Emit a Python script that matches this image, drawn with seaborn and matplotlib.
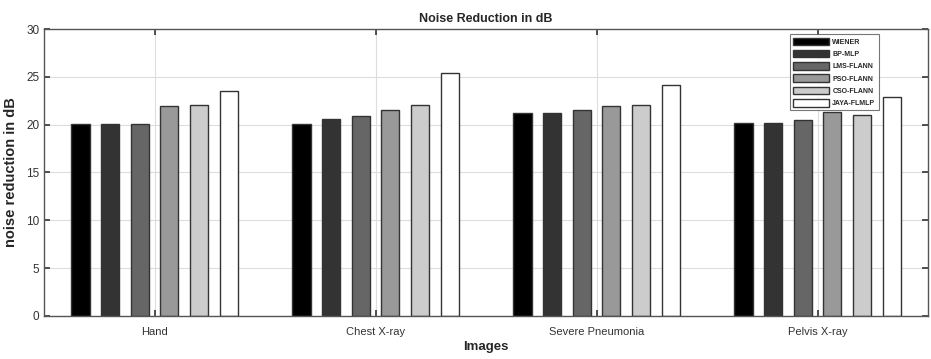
import pandas as pd
import numpy as np
import matplotlib
matplotlib.use("Agg")
import matplotlib.pyplot as plt
import seaborn as sns

# data
images = ["Hand", "Chest X-ray", "Severe Pneumonia", "Pelvis X-ray"]
methods = ["WIENER", "BP-MLP", "LMS-FLANN", "PSO-FLANN", "CSO-FLANN", "JAYA-FLMLP"]
wiener = [20.05, 20.1, 21.2, 20.2]
bp_mlp = [20.1, 20.6, 21.2, 20.2]
lms_flann = [20.1, 20.9, 21.5, 20.5]
pso_flann = [21.9, 21.5, 21.9, 21.35]
cso_flann = [22.1, 22.1, 22.1, 21.0]
jaya_flmlp = [23.5, 25.4, 24.15, 22.9]
colors = ["#000000", "#333333", "#666666", "#999999", "#cccccc", "#ffffff"]

# long form table for seaborn
rows = []
for m, vals in zip(methods, [wiener, bp_mlp, lms_flann, pso_flann, cso_flann, jaya_flmlp]):
    for img, v in zip(images, vals):
        rows.append({"Images": img, "Method": m, "value": v})
df = pd.DataFrame(rows)

sns.set_style("white")
plt.rcParams['font.family'] = ['Liberation Sans', 'DejaVu Sans']

fig = plt.figure(figsize=(9.31, 3.59), dpi=100)
ax = fig.add_axes([0.0473, 0.1198, 0.9495, 0.7994])

sns.barplot(data=df, x="Images", y="value", hue="Method", order=images,
            hue_order=methods, palette=colors, width=0.804, gap=0.39,
            edgecolor="#333333", linewidth=1.0, saturation=1, ax=ax)

ax.set_xlim(-0.5, 3.5)
ax.set_ylim(0, 30)
ax.set_yticks(np.arange(0, 31, 5))
ax.grid(True, color="#dddddd", linewidth=0.8)
ax.set_axisbelow(True)

for s in ax.spines.values():
    s.set_color("#555555")
    s.set_linewidth(1.0)
    s.set_visible(True)

ax.tick_params(axis="both", direction="in", length=4, width=1.2, color="#333333",
               labelsize=8.5, labelcolor="#333333", top=True, right=True,
               left=True, bottom=True)
ax.tick_params(axis="x", pad=8, labelsize=8)

ax.set_title("Noise Reduction in dB", fontsize=9, fontweight="bold", pad=5)
ax.set_ylabel("noise reduction in dB", fontsize=10.5, fontweight="bold", labelpad=6)
ax.set_xlabel("Images", fontsize=9.5, fontweight="bold", labelpad=3)

leg = ax.legend(loc="upper right", bbox_to_anchor=(0.948, 0.993),
                prop={"weight": "bold", "size": 5}, frameon=True, fancybox=False,
                edgecolor="#555555", handlelength=5.2, handleheight=1.3,
                labelspacing=0.6, borderpad=0.45, handletextpad=0.5)
leg.get_frame().set_linewidth(0.8)

fig.savefig("out.png", dpi=100)
